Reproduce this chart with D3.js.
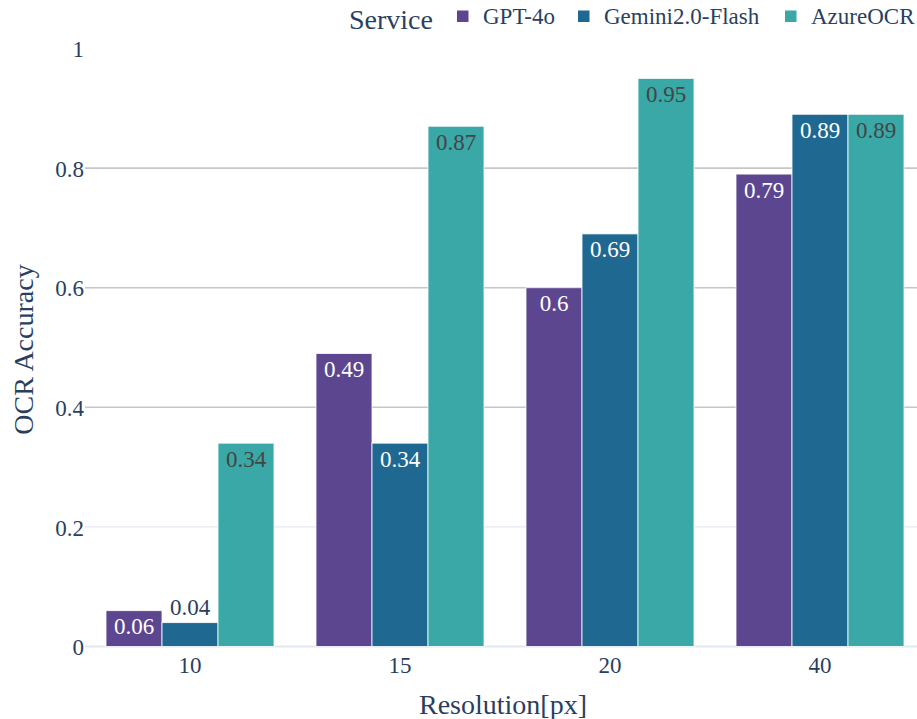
<!DOCTYPE html>
<html><head><meta charset="utf-8">
<script src="https://cdn.jsdelivr.net/npm/d3@7"></script>
<style>body{margin:0;background:#fff}svg{display:block}text{font-family:"Liberation Serif","Times New Roman",serif}</style>
</head><body>
<svg id="chart" width="917" height="719"></svg>
<script>
const categories = ["10", "15", "20", "40"];
const services = ["GPT-4o", "Gemini2.0-Flash", "AzureOCR"];
const gpt4o = [0.06, 0.49, 0.6, 0.79];
const gemini = [0.04, 0.34, 0.69, 0.89];
const azure = [0.34, 0.87, 0.95, 0.89];
const yTicks = [0, 0.2, 0.4, 0.6, 0.8, 1];
const colors = ["#5d4690", "#1f6892", "#3aa8a6"];
const insideText = ["#ffffff", "#ffffff", "#444444"];
const seriesValues = [gpt4o, gemini, azure];

(function () {
const svg = d3.select("#chart");
const textColor = "#2a3f5f";
const pLeft = 85, pRight = 925, pTop = 48.5, pBottom = 646.5;

const x = d3.scaleBand().domain(categories).range([pLeft, pRight]).paddingInner(0.2).paddingOuter(0.1);
const xs = d3.scaleBand().domain(services).range([0, x.bandwidth()]);
const y = d3.scaleLinear().domain([0, 1]).range([pBottom, pTop]);

// gridlines
const grid = svg.append("g");
yTicks.filter(t => t > 0 && t < 1).forEach(t => {
  grid.append("line").attr("x1", pLeft).attr("x2", 917).attr("y1", y(t)).attr("y2", y(t))
    .attr("stroke", t === 0.2 ? "#e6e9f2" : "#c6c6c8").attr("stroke-width", t === 0.2 ? 1.2 : 1.6);
});
// zero line
svg.append("line").attr("x1", pLeft).attr("x2", 917).attr("y1", y(0)).attr("y2", y(0))
  .attr("stroke", "#e2e8f0").attr("stroke-width", 2);

// y tick labels
const yAxis = d3.axisLeft(y).tickValues(yTicks).tickSize(0).tickPadding(0).tickFormat(d3.format("~g"));
const ya = svg.append("g").attr("transform", `translate(${pLeft - 1},0)`).call(yAxis);
ya.select(".domain").remove();
ya.selectAll("text").attr("fill", textColor).style("font-size", "23px").attr("dy", "0.36em")
  .style("font-family", '"Liberation Serif", serif');

// x tick labels
const xAxis = d3.axisBottom(x).tickSize(0).tickPadding(0);
const xa = svg.append("g").attr("transform", `translate(0,${pBottom})`).call(xAxis);
xa.select(".domain").remove();
xa.selectAll("text").attr("fill", textColor).style("font-size", "23px").attr("dy", null).attr("y", 26)
  .style("font-family", '"Liberation Serif", serif');

// bars
services.forEach((s, si) => {
  const g = svg.append("g");
  categories.forEach((c, ci) => {
    const v = seriesValues[si][ci];
    const bx = x(c) + xs(s);
    const w = xs.bandwidth();
    g.append("rect").attr("x", bx).attr("y", y(v)).attr("width", w).attr("height", y(0) - y(v))
      .attr("fill", colors[si]).attr("stroke", "#ffffff").attr("stroke-opacity", 0.8).attr("stroke-width", 1);
    const h = y(0) - y(v);
    const inside = h > 30;
    g.append("text").attr("x", bx + w / 2)
      .attr("y", inside ? y(v) + 23.5 : y(v) - 8)
      .attr("text-anchor", "middle").style("font-size", "23px")
      .attr("fill", inside ? insideText[si] : textColor).text(d3.format("~g")(v));
  });
});

// axis titles
svg.append("text").attr("x", (pLeft + pRight) / 2 - 2).attr("y", 714).attr("text-anchor", "middle")
  .style("font-size", "28px").attr("fill", textColor).text("Resolution[px]");
svg.append("text").attr("transform", `translate(33,${(pTop + pBottom) / 2 + 2}) rotate(-90)`).attr("text-anchor", "middle")
  .style("font-size", "28px").attr("fill", textColor).text("OCR Accuracy");

// legend
const lg = svg.append("g");
lg.append("text").attr("x", 349).attr("y", 29).style("font-size", "28px").attr("fill", textColor).text("Service");
const legendX = [457, 578, 785];
services.forEach((s, i) => {
  lg.append("rect").attr("x", legendX[i]).attr("y", 10.5).attr("width", 11.5).attr("height", 11.5).attr("fill", colors[i]);
  lg.append("text").attr("x", legendX[i] + 26).attr("y", 23.5).style("font-size", "23px").attr("fill", textColor).text(s);
});
})();
</script>
</body></html>
